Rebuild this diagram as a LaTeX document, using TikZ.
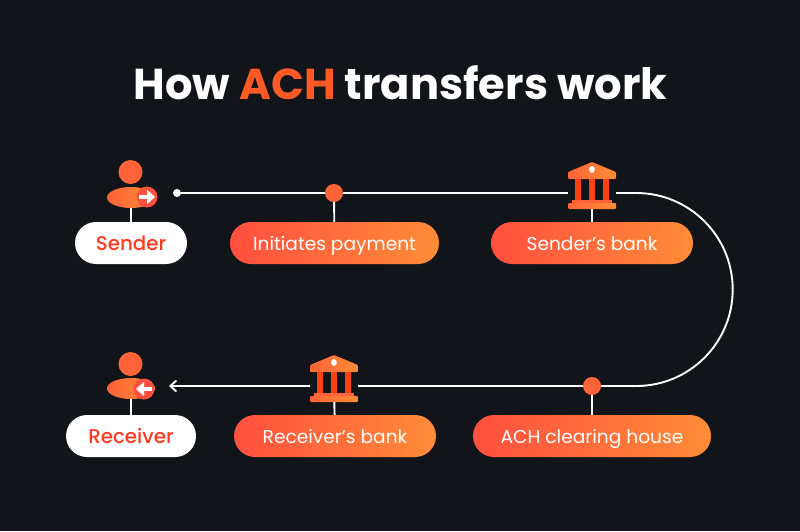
\documentclass[tikz,border=0pt]{standalone}
\usepackage{fontspec}
\setmainfont{Poppins}
\newfontfamily\labelfont{Poppins Medium}
\usetikzlibrary{positioning}
\usetikzlibrary{shapes.geometric,arrows.meta}
\definecolor{bgdark}{HTML}{111519}
\definecolor{achred}{HTML}{FF4F3F}
\definecolor{achmid}{HTML}{FF6338}
\definecolor{achtitle}{HTML}{FF5A26}
\definecolor{achorange}{HTML}{FF8C37}
\definecolor{achcolumn}{HTML}{FF4112}
\definecolor{achtext}{HTML}{FF3A1E}
\tikzset{
	pill/.style={minimum height=42pt,inner sep=0pt,rounded corners=21pt,text height=17pt,text depth=2pt,font=\fontsize{18.6}{22}\selectfont},
	gradpill/.style={pill,left color=achred,right color=achorange,text=white},
	whitepill/.style={pill,fill=white,text=achtext,font=\fontsize{19.8}{22}\labelfont},
	flow/.style={draw=white,line width=1.9pt},
	dot/.style={circle,fill=achmid,minimum size=18pt,inner sep=0pt},
	head/.style={circle,fill=achmid,minimum size=24pt,inner sep=0pt},
	body/.style={ellipse,left color=achmid,right color=achorange,minimum width=48pt,minimum height=21pt,inner sep=0pt},
	badge/.style={circle,fill=achred,minimum size=21pt,inner sep=0pt},
	badgearrow/.style={draw=white,line width=3.6pt,-{Triangle[length=8pt,width=14pt]}},
	bankbox/.style={minimum width=48pt,minimum height=32pt,inner sep=0pt},
	pics/bank/.style={code={
		\fill[left color=achmid,right color=achorange,rounded corners=1pt] (-24,-21) -- (0,-31) -- (24,-21) -- (24,-14) -- (-24,-14) -- cycle;
		\fill[white] (0,-23.5) ellipse[x radius=2.8pt,y radius=3.4pt];
		\foreach \colx in {-14,0,14}
			\fill[achcolumn] (\colx-2.9,-14) rectangle (\colx+2.9,8);
		\fill[achmid] (-20,7) rectangle (20,10);
		\fill[left color=achmid,right color=achorange,rounded corners=1pt] (-24,10) rectangle (24,16);
	}}
}
\begin{document}
\begin{tikzpicture}[x=1pt,y=-1pt]
	\fill[bgdark] (0,0) rectangle (800,531);
	\useasboundingbox (0,0) rectangle (800,531);
	\node[text=white,inner sep=0pt,font=\fontsize{43.2}{52}\selectfont\bfseries] (title) at (400.5,83) {How \textcolor{achtitle}{ACH} transfers work};
	\node[whitepill,minimum width=112pt] (sender) at (131,243) {Sender};
	\node[gradpill,minimum width=209pt] (initiates) at (334.5,243) {Initiates payment};
	\node[gradpill,minimum width=202pt] (sbank) at (592,243) {Sender’s bank};
	\node[whitepill,minimum width=130pt] (receiver) at (131,436) {Receiver};
	\node[gradpill,minimum width=202pt] (rbank) at (335,436) {Receiver’s bank};
	\node[gradpill,minimum width=238pt] (clearing) at (592,436) {ACH clearing house};
	\node[head] (shead) at (130.5,172) {};
	\node[body] (sbody) at (131,197.5) {};
	\node[badge] (sbadge) at (147,197) {};
	\node[head] (rhead) at (130.5,364) {};
	\node[body] (rbody) at (131,388.5) {};
	\node[badge] (rbadge) at (144,389) {};
	\node[circle,fill=white,minimum size=8pt,inner sep=0pt] (start) at (177,193) {};
	\node[dot] (initdot) at (334,193) {};
	\node[dot] (cleardot) at (592,386) {};
	\node[bankbox] (sicon) at (592,193) {};
	\node[bankbox] (ricon) at (334,386) {};
	\coordinate (tip) at (169,386);
	\pic at (sicon) {bank};
	\pic at (ricon) {bank};
	\draw[badgearrow] ([xshift=-8pt]sbadge.center) -- ([xshift=8pt]sbadge.center);
	\draw[badgearrow] ([xshift=8pt]rbadge.center) -- ([xshift=-8pt]rbadge.center);
	\draw[flow] (start) -- (initdot);
	\draw[flow] (initdot) -- (sicon);
	\draw[flow] (sicon.east) -- ++(20,0) arc[start angle=90,end angle=-90,radius=96.5pt] -- (cleardot);
	\draw[flow] (cleardot) -- (ricon);
	\draw[flow,-{Straight Barb[length=6pt,width=11pt]}] (ricon) -- (tip);
	\draw[flow] (sbody) -- (sender);
	\draw[flow] (initdot) -- (initiates);
	\draw[flow] (sicon) -- (sbank);
	\draw[flow] (rbody) -- (receiver);
	\draw[flow] (ricon) -- (rbank);
	\draw[flow] (cleardot) -- (clearing);
\end{tikzpicture}
\end{document}
